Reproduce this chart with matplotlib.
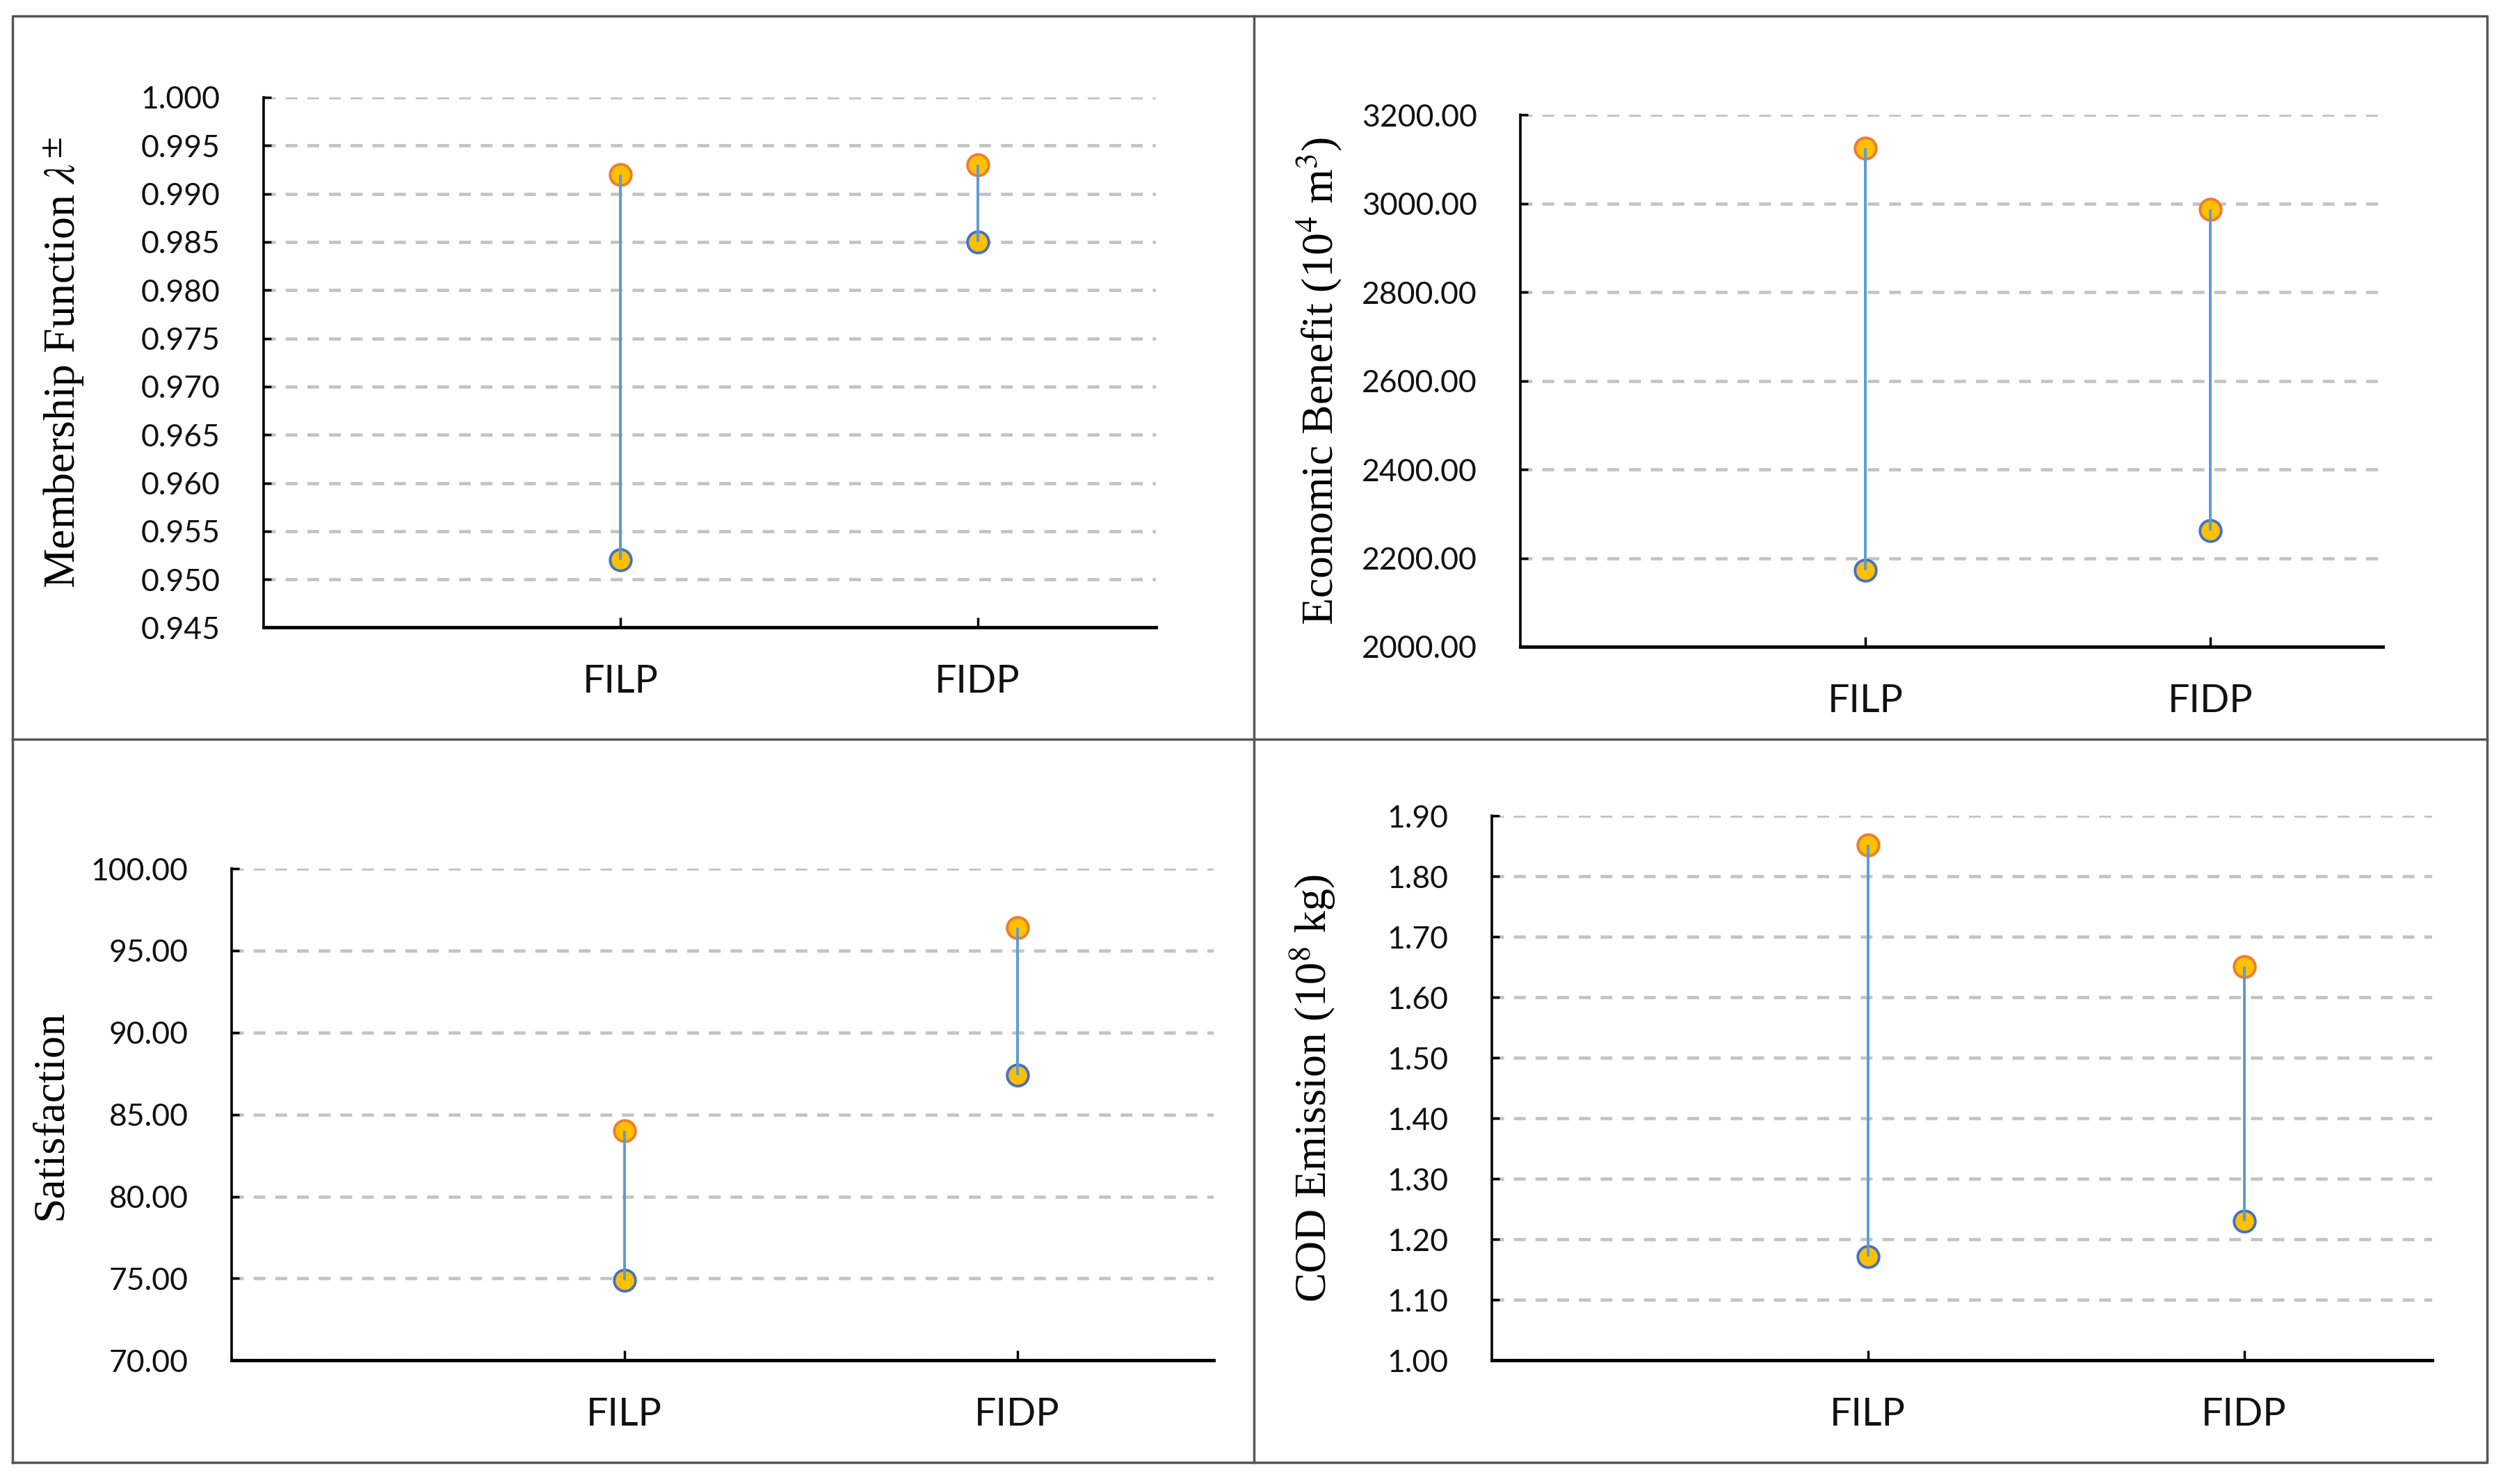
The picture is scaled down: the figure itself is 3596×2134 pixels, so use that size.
import matplotlib
matplotlib.use("Agg")
import matplotlib.pyplot as plt
from matplotlib.lines import Line2D
from matplotlib.ticker import FormatStrFormatter, MultipleLocator

# data (lower / upper bound of each interval)
models = ["FILP", "FIDP"]

membership_lower = [0.952, 0.985]
membership_upper = [0.992, 0.993]

benefit_lower = [2172, 2262]
benefit_upper = [3125, 2987]

satisfaction_lower = [74.9, 87.4]
satisfaction_upper = [84.0, 96.4]

cod_lower = [1.172, 1.230]
cod_upper = [1.852, 1.651]

plt.rcParams["mathtext.fontset"] = "stix"

FILL = "#FFC000"
UP_EDGE = "#ED7D31"
LOW_EDGE = "#4472C4"
LINE = "#5B9BD5"
GRID = "#C4C4C4"

fig = plt.figure(figsize=(35.96, 21.34), dpi=100)


def interval_panel(rect, lower, upper, ylim, step, fmt, ylabel):
    ax = fig.add_axes(rect)
    x = list(range(1, len(models) + 1))
    ax.plot(x, upper, "o", ms=22, mfc=FILL, mec=UP_EDGE, mew=2.8, zorder=3)
    ax.plot(x, lower, "o", ms=22, mfc=FILL, mec=LOW_EDGE, mew=2.8, zorder=3)
    ax.vlines(x, lower, upper, color=LINE, lw=2.8, zorder=4)

    ax.set_xlim(0, 2.5)
    ax.set_ylim(*ylim)
    ax.yaxis.set_major_locator(MultipleLocator(step))
    ax.yaxis.set_major_formatter(FormatStrFormatter(fmt))
    ax.set_xticks(x)
    ax.set_xticklabels(models, fontsize=40, family="Lato", color="#111111")
    for t in ax.get_yticklabels():
        t.set_family("Lato")
    ax.tick_params(axis="y", direction="in", length=8, width=2.5,
                   labelsize=32, pad=45, labelcolor="#111111")
    ax.tick_params(axis="x", direction="in", length=10, width=2.5, pad=38)

    ax.grid(axis="y", color=GRID, lw=3.4, ls=(0, (3.6, 3.0)), zorder=1)
    ax.set_axisbelow(True)
    for s in ["top", "right"]:
        ax.spines[s].set_visible(False)
    ax.spines["left"].set_linewidth(2.6)
    ax.spines["bottom"].set_linewidth(3.5)

    ax.set_ylabel(ylabel, family="Liberation Serif", fontsize=46)
    ax.yaxis.label.set_va("center")
    return ax


ax1 = interval_panel([0.1054, 0.5771, 0.3569, 0.3573], membership_lower, membership_upper,
                     (0.945, 1.000), 0.005, "%.3f", r"Membership Function $\lambda^{\pm}$")
ax1.yaxis.set_label_coords(-125 / 559, 0.5)

ax2 = interval_panel([0.6079, 0.5642, 0.3448, 0.3583], benefit_lower, benefit_upper,
                     (2000, 3200), 200, "%.2f", r"Economic Benefit (10$^4$ m$^3$)")
ax2.yaxis.set_label_coords(-126 / 540, 0.5)

ax3 = interval_panel([0.0926, 0.0833, 0.3927, 0.3314], satisfaction_lower, satisfaction_upper,
                     (70, 100), 5, "%.2f", "Satisfaction")
ax3.yaxis.set_label_coords(-113 / 615, 0.5)

ax4 = interval_panel([0.5964, 0.0833, 0.3761, 0.3669], cod_lower, cod_upper,
                     (1.00, 1.90), 0.1, "%.2f", r"COD Emission (10$^8$ kg)")
ax4.yaxis.set_label_coords(-112 / 589, 0.5)

# panel frame
frame = dict(color="#555555", lw=2.5, transform=fig.transFigure)
x0, x1, y0, y1 = 0.0051, 0.9943, 0.0144, 0.9892
xm, ym = 0.5013, 0.5018
fig.add_artist(Line2D([x0, x1, x1, x0, x0], [y0, y0, y1, y1, y0], **frame))
fig.add_artist(Line2D([xm, xm], [y0, y1], **frame))
fig.add_artist(Line2D([x0, x1], [ym, ym], **frame))

fig.savefig("out.png", dpi=100, facecolor="white")
